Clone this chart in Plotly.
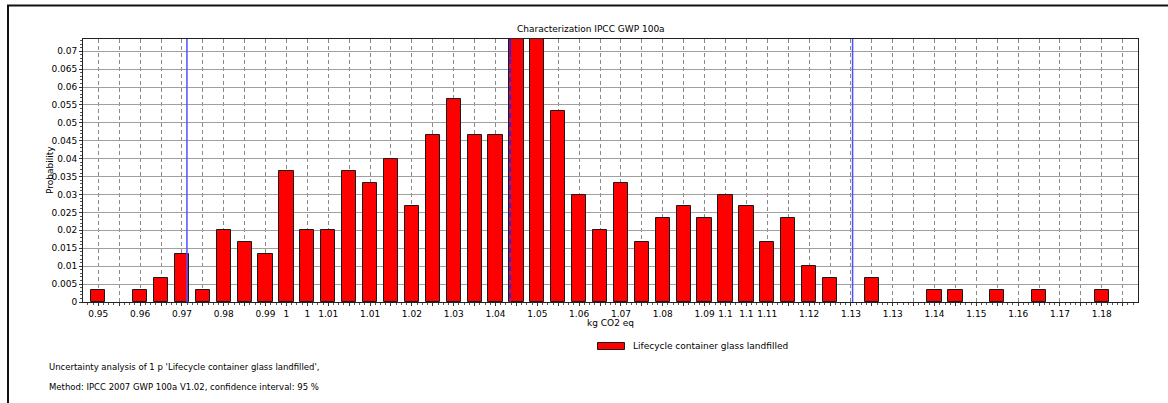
import plotly.graph_objects as go

# Monte Carlo histogram: counts per bin out of the total number of runs
runs = 300
bin_counts = [1, 0, 1, 2, 4, 1, 6, 5, 4, 11,
              6, 6, 11, 10, 12, 8, 14, 17, 14, 14,
              22, 22, 16, 9, 6, 10, 5, 7, 8, 7,
              9, 8, 5, 7, 3, 2, 0, 2, 0, 0,
              1, 1, 0, 1, 0, 1, 0, 0, 1, 0]
bin_index = list(range(len(bin_counts)))

# Rounded bin-centre labels (kg CO2 eq); blank where the label is skipped
bin_labels = ["0.95", "", "0.96", "", "0.97", "", "0.98", "", "0.99", "1",
              "1", "1.01", "", "1.01", "", "1.02", "", "1.03", "", "1.04",
              "", "1.05", "", "1.06", "", "1.07", "", "1.08", "", "1.09",
              "1.1", "1.1", "1.11", "", "1.12", "", "1.13", "", "1.13", "",
              "1.14", "", "1.15", "", "1.16", "", "1.17", "", "1.18", ""]

y_tick_vals = [0, 0.005, 0.01, 0.015, 0.02, 0.025, 0.03, 0.035,
               0.04, 0.045, 0.05, 0.055, 0.06, 0.065, 0.07]
y_tick_text = ["0", "0.005", "0.01", "0.015", "0.02", "0.025", "0.03", "0.035",
               "0.04", "0.045", "0.05", "0.055", "0.06", "0.065", "0.07"]

# Confidence interval bounds (2.5 % / 97.5 %) and the median, in bin units
interval_bounds = [4.24, 36.08]
median_pos = 19.70

series_name = "Lifecycle container glass landfilled"
# empty bins are left out so no outline is drawn for them
probability = [c / runs if c > 0 else None for c in bin_counts]

W, H = 1168, 403
L, R, T, B = 83, 30, 39, 101
PW, PH = W - L - R, H - T - B
FONT = "DejaVu Sans"


def px(x):
    return (x - L) / PW


def py(y):
    return (H - B - y) / PH


fig = go.Figure()
fig.add_trace(go.Bar(
    x=bin_index, y=probability, width=0.68,
    marker=dict(color="#ff0000", line=dict(color="#1a1a1a", width=1)),
    name=series_name, showlegend=False, hoverinfo="x+y",
))

shapes = []
for xb in interval_bounds:
    shapes.append(dict(type="line", xref="x", yref="paper", x0=xb, x1=xb, y0=0, y1=1,
                       line=dict(color="#5050ff", width=1.5), layer="above"))
shapes.append(dict(type="line", xref="x", yref="paper", x0=median_pos, x1=median_pos, y0=0, y1=1,
                   line=dict(color="#2020ff", width=1.5), layer="above"))
shapes.append(dict(type="line", xref="x", yref="paper", x0=median_pos, x1=median_pos,
                   y0=0, y1=0.93, line=dict(color="#ff2020", width=1, dash="4px,5px"), layer="above"))
# Outer frame around the whole report panel
shapes.append(dict(type="rect", xref="paper", yref="paper",
                   x0=px(8), x1=px(1200), y0=py(5.5), y1=py(430),
                   line=dict(color="#111111", width=2), fillcolor="rgba(0,0,0,0)", layer="above"))
# Legend swatch
shapes.append(dict(type="rect", xref="paper", yref="paper",
                   x0=px(597.5), x1=px(624.5), y0=py(349.5), y1=py(342.5),
                   line=dict(color="#1a1a1a", width=1), fillcolor="#ff0000", layer="above"))

annotations = [
    dict(text="Characterization IPCC GWP 100a", xref="paper", yref="paper",
         x=px(590.5), y=py(28.5), xanchor="center", yanchor="middle", showarrow=False,
         font=dict(family=FONT, size=9, color="#000")),
    dict(text="Probability", xref="paper", yref="paper", textangle=-90,
         x=px(50), y=py(170), xanchor="center", yanchor="middle", showarrow=False,
         font=dict(family=FONT, size=9, color="#000")),
    dict(text="kg CO2 eq", xref="paper", yref="paper",
         x=px(610), y=py(322.5), xanchor="center", yanchor="middle", showarrow=False,
         font=dict(family=FONT, size=9, color="#000")),
    dict(text=series_name, xref="paper", yref="paper",
         x=px(631), y=py(346), xanchor="left", yanchor="middle", showarrow=False,
         font=dict(family=FONT, size=9, color="#000")),
    dict(text="Uncertainty analysis of 1 p 'Lifecycle container glass landfilled',",
         xref="paper", yref="paper", x=px(47), y=py(366.5), xanchor="left", yanchor="middle",
         showarrow=False, font=dict(family=FONT, size=8.5, color="#000")),
    dict(text="Method: IPCC 2007 GWP 100a V1.02, confidence interval: 95 %",
         xref="paper", yref="paper", x=px(47), y=py(386.5), xanchor="left", yanchor="middle",
         showarrow=False, font=dict(family=FONT, size=8.5, color="#000")),
]

fig.update_layout(
    width=W, height=H,
    margin=dict(l=L, r=R, t=T, b=B, pad=0),
    paper_bgcolor="white", plot_bgcolor="white",
    font=dict(family=FONT, size=9, color="#000"),
    bargap=0,
    shapes=shapes, annotations=annotations,
    xaxis=dict(
        range=[-0.732, len(bin_counts) - 1 + 0.732],
        tickmode="array", tickvals=bin_index, ticktext=bin_labels, tickangle=0,
        ticks="outside", ticklen=3, tickcolor="#333", tickfont=dict(family=FONT, size=9, color="#000"),
        showgrid=True, gridcolor="#8a8a8a", gridwidth=1, griddash="4px,3px",
        showline=True, linecolor="#222", linewidth=1, mirror=True,
        zeroline=False,
        minor=dict(tick0=0, dtick=0.25, ticks="outside", ticklen=2, tickcolor="#555", showgrid=False),
    ),
    yaxis=dict(
        range=[0, 0.0734],
        tickmode="array", tickvals=y_tick_vals, ticktext=y_tick_text,
        ticks="outside", ticklen=3, tickcolor="#333", tickfont=dict(family=FONT, size=9, color="#000"),
        showgrid=True, gridcolor="#a0a0a0", gridwidth=1.3,
        showline=True, linecolor="#222", linewidth=1, mirror=True,
        zeroline=False,
        minor=dict(tick0=0, dtick=0.001, ticks="outside", ticklen=2, tickcolor="#555", showgrid=False),
    ),
)

fig.write_html("out.html")
